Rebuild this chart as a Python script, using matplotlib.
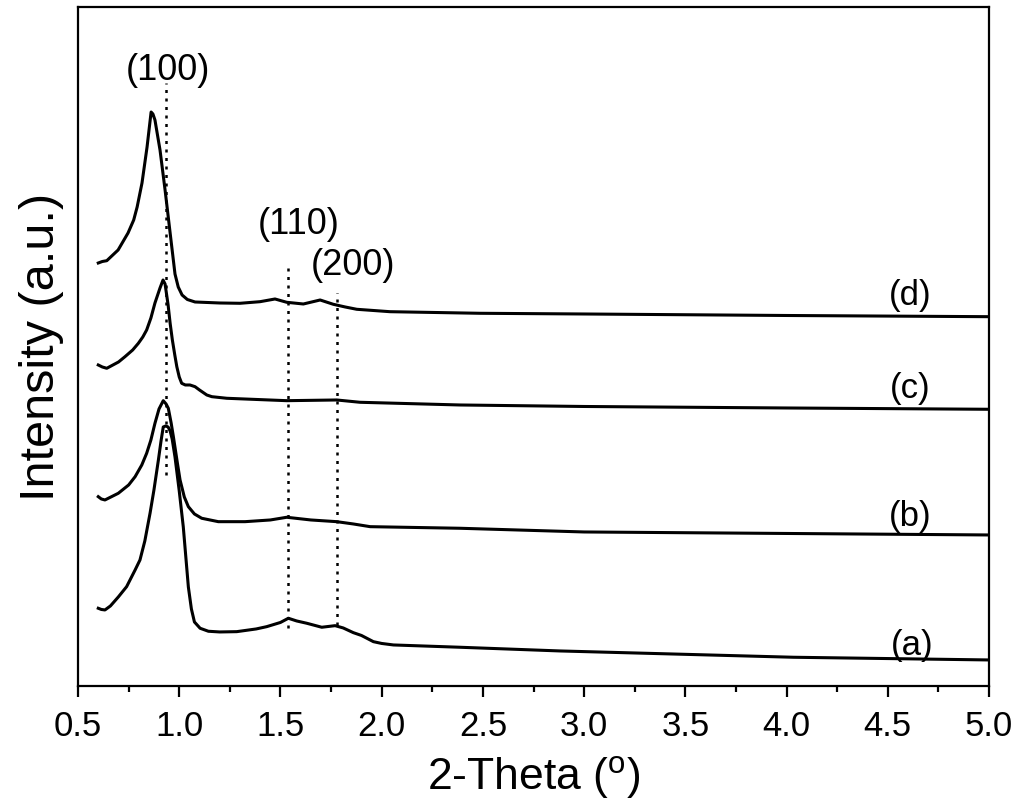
import matplotlib
matplotlib.use("Agg")
import matplotlib.pyplot as plt
from matplotlib.ticker import MultipleLocator, FormatStrFormatter

plt.rcParams['font.family'] = ['Liberation Sans', 'DejaVu Sans']
plt.rcParams['mathtext.default'] = 'regular'

# ---- data (arbitrary intensity units) ----
x_a = [0.600, 0.615, 0.633, 0.660, 0.699, 0.740, 0.782, 0.806, 0.830, 0.856, 0.875, 0.897,
       0.910, 0.921, 0.933, 0.945, 0.955, 0.965, 0.979, 1.000, 1.020, 1.045, 1.060, 1.075,
       1.103, 1.144, 1.200, 1.284, 1.380, 1.432, 1.500, 1.539, 1.580, 1.630, 1.704, 1.770,
       1.810, 1.860, 1.900, 1.959, 2.000, 2.058, 2.387, 2.881, 4.034, 5.000]
y_a = [77.7, 76.5, 76.0, 80.0, 89.0, 99.3, 116.0, 126.0, 145.0, 173.0, 196.0, 226.0,
       245.0, 259.0, 260.0, 259.0, 255.0, 247.0, 229.0, 195.0, 159.0, 99.0, 77.0, 64.0,
       57.7, 54.7, 54.0, 54.3, 57.0, 59.3, 63.5, 67.7, 65.0, 62.7, 58.7, 60.3,
       58.0, 53.3, 50.5, 44.3, 42.5, 41.0, 38.7, 35.0, 28.7, 26.0]

x_b = [0.600, 0.615, 0.633, 0.699, 0.750, 0.782, 0.815, 0.839, 0.860, 0.880, 0.900, 0.921,
       0.935, 0.946, 0.960, 0.971, 0.990, 1.004, 1.025, 1.045, 1.075, 1.111, 1.193, 1.325,
       1.450, 1.531, 1.650, 1.778, 1.860, 1.943, 2.387, 3.000, 4.000, 5.000]
y_b = [189.3, 187.0, 186.0, 192.7, 201.0, 209.3, 221.0, 232.7, 246.0, 262.7, 277.0, 285.3,
       282.0, 277.7, 263.0, 249.3, 224.0, 206.0, 189.0, 179.3, 172.0, 167.7, 164.3, 164.3,
       166.0, 168.7, 166.0, 164.3, 162.0, 159.3, 157.7, 154.0, 152.5, 151.0]

x_c = [0.600, 0.620, 0.642, 0.700, 0.732, 0.770, 0.798, 0.820, 0.839, 0.860, 0.880, 0.905,
       0.920, 0.930, 0.945, 0.955, 0.966, 0.978, 0.988, 1.000, 1.012, 1.030, 1.053, 1.078,
       1.100, 1.136, 1.161, 1.235, 1.531, 1.778, 1.893, 2.387, 3.000, 4.000, 5.000]
y_c = [321.0, 319.0, 317.7, 324.0, 329.3, 336.0, 342.7, 349.0, 356.0, 368.0, 383.0, 398.0,
       406.0, 402.0, 381.0, 362.7, 346.0, 331.0, 319.3, 309.0, 302.7, 301.0, 301.0, 299.3,
       296.0, 291.0, 289.3, 287.7, 285.3, 286.0, 283.7, 281.0, 279.5, 278.0, 276.7]

x_d = [0.600, 0.620, 0.642, 0.698, 0.747, 0.775, 0.792, 0.816, 0.841, 0.861, 0.870, 0.880,
       0.905, 0.930, 0.955, 0.979, 0.995, 1.014, 1.040, 1.078, 1.200, 1.300, 1.399, 1.473,
       1.531, 1.613, 1.696, 1.761, 1.820, 1.877, 2.041, 2.486, 3.000, 4.000, 5.000]
y_d = [423.0, 424.5, 425.3, 436.0, 453.0, 466.0, 479.0, 503.0, 539.0, 574.0, 572.0, 566.0,
       536.0, 496.0, 453.0, 412.0, 399.0, 391.0, 386.5, 384.0, 383.0, 382.7, 384.3, 387.0,
       383.7, 382.0, 386.0, 381.7, 379.0, 376.7, 374.3, 372.7, 372.0, 370.5, 369.3]

curve_labels = ['(a)', '(b)', '(c)', '(d)']
curve_label_x = [4.62, 4.61, 4.61, 4.61]
curve_label_y = [24, 153, 281, 374]

peak_labels = ['(100)', '(110)', '(200)']
peak_x = [0.935, 1.536, 1.778]
peak_line_lo = [211, 58, 61]
peak_line_hi = [603, 418, 393]
peak_label_x = [0.945, 1.590, 1.860]
peak_label_y = [598, 444, 403]

# ---- figure ----
fig = plt.figure(figsize=(10.24, 8.07), dpi=100)
ax = fig.add_axes([0.0762, 0.150, 0.8896, 0.8413])

for xs, ys in [(x_a, y_a), (x_b, y_b), (x_c, y_c), (x_d, y_d)]:
    ax.plot(xs, ys, color='black', lw=2.2, solid_joinstyle='round')

for px, lo, hi in zip(peak_x, peak_line_lo, peak_line_hi):
    ax.plot([px, px], [lo, hi], color='black', lw=1.8, linestyle=(0, (1.2, 2.2)))

for t, tx, ty in zip(peak_labels, peak_label_x, peak_label_y):
    ax.text(tx, ty, t, ha='center', va='bottom', fontsize=26)

for t, tx, ty in zip(curve_labels, curve_label_x, curve_label_y):
    ax.text(tx, ty, t, ha='center', va='bottom', fontsize=25)

ax.set_xlim(0.5, 5.0)
ax.set_ylim(0, 679)
ax.xaxis.set_major_locator(MultipleLocator(0.5))
ax.xaxis.set_minor_locator(MultipleLocator(0.25))
ax.xaxis.set_major_formatter(FormatStrFormatter('%.1f'))
ax.set_yticks([])
ax.tick_params(axis='x', which='major', direction='out', length=8, width=1.6,
               labelsize=25, pad=9, top=False)
ax.tick_params(axis='x', which='minor', direction='out', length=4.5, width=1.6, top=False)
for s in ax.spines.values():
    s.set_linewidth(1.6)

ax.set_xlabel(r'2-Theta ($\mathregular{^o}$)', fontsize=32, labelpad=8)
ax.set_ylabel('Intensity (a.u.)', fontsize=35, labelpad=10)

fig.savefig('out.png', dpi=100)
